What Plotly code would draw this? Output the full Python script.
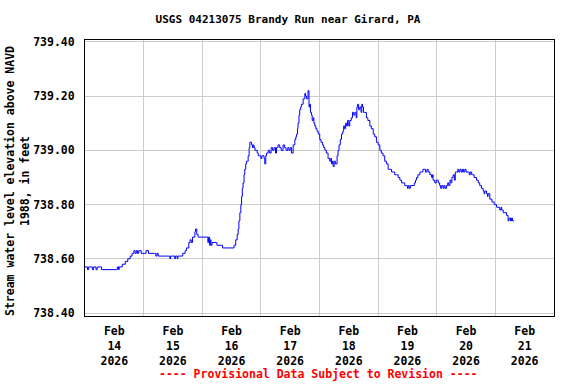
import pandas as pd
import plotly.graph_objects as go

# Hours since 2026-02-14 00:00 and stage (ft above NAVD 1988)
hours = [0, 1.0, 1.5, 2.5, 3.0, 3.5, 4.5, 5.0, 6.5, 6.75, 13.0, 13.25, 13.75, 14.0, 15.25, 16.5,
         17.5, 18.5, 19.25, 20.0, 20.5, 21.0, 21.5, 22.0, 22.5, 23.0, 24.5, 25.0, 26.0, 28.5, 29.0,
         29.5, 30.0, 34.5, 34.75, 35.0, 36.5, 36.75, 37.0, 37.75, 38.0, 39.5, 40.0, 41.0, 41.5,
         42.5, 43.0, 43.5, 44.0, 45.0, 45.25, 45.75, 46.3, 50.0, 50.3, 50.6, 51.0, 51.3, 51.6,
         52.0, 53.8, 54.0, 56.0, 56.3, 60.6, 61.0, 61.7, 62.3, 62.7, 63.0, 63.4, 63.8, 64.1, 64.4,
         64.7, 65.1, 65.4, 65.8, 66.1, 66.5, 66.8, 67.2, 67.5, 67.9, 68.2, 68.6, 68.9, 69.2, 69.6,
         69.9, 70.5, 70.9, 71.5, 72.0, 72.4, 72.9, 73.3, 73.6, 74.0, 74.3, 75.0, 75.6, 76.2, 76.8,
         77.4, 78.0, 78.4, 79.0, 79.7, 80.3, 81.1, 81.7, 82.3, 83.0, 83.5, 84.0, 84.5, 85.2, 85.9,
         86.3, 86.6, 87.0, 87.2, 87.6, 87.9, 88.3, 88.6, 89.3, 90.0, 90.3, 90.7, 91.0, 91.3, 91.7,
         92.0, 92.3, 92.7, 93.0, 93.4, 93.7, 94.1, 94.5, 95.0, 95.5, 96.1, 96.6, 97.2, 97.7, 98.2,
         98.8, 99.5, 100.2, 100.6, 100.9, 101.3, 101.6, 102.0, 102.5, 103.2, 103.6, 104.0, 104.5,
         105.0, 105.5, 105.9, 106.3, 106.7, 107.1, 107.5, 108.0, 108.4, 109.0, 109.5, 110.0, 110.5,
         111.0, 111.3, 111.6, 112.0, 112.5, 113.0, 113.3, 113.6, 114.0, 114.6, 115.2, 115.8, 116.6,
         117.2, 118.0, 118.6, 119.3, 120.0, 120.7, 121.3, 122.0, 122.7, 123.4, 124.1, 124.8, 125.5,
         126.8, 127.5, 128.2, 128.9, 129.6, 130.3, 130.9, 131.6, 132.0, 132.3, 132.7, 133.2, 134.3,
         134.8, 135.3, 135.7, 136.3, 137.1, 137.8, 138.3, 138.8, 139.4, 140.0, 140.5, 141.2, 141.9,
         142.3, 142.5, 143.2, 143.8, 144.6, 145.2, 145.6, 146.0, 146.6, 147.0, 147.4, 148.0, 148.5,
         148.9, 149.4, 149.8, 150.2, 150.7, 151.2, 151.6, 152.1, 152.6, 153.0, 153.5, 154.0, 154.5,
         155.0, 155.5, 156.0, 156.9, 157.3, 157.7, 158.3, 158.8, 159.3, 160.3, 161.0, 161.6, 162.3,
         163.0, 163.4, 163.7, 164.4, 164.8, 165.0, 165.7, 166.2, 166.6, 167.1, 167.5, 168.0, 168.5,
         169.0, 169.8, 170.3, 170.6, 171.2, 171.9, 172.6, 173.2, 173.6, 174.2, 174.6, 175.0, 175.6]

stage = [738.57, 738.56, 738.57, 738.57, 738.56, 738.57, 738.56, 738.57, 738.57, 738.56, 738.56,
         738.57, 738.56, 738.57, 738.58, 738.59, 738.60, 738.61, 738.62, 738.63, 738.62, 738.63,
         738.62, 738.63, 738.63, 738.62, 738.62, 738.63, 738.62, 738.62, 738.61, 738.62, 738.61,
         738.61, 738.60, 738.61, 738.61, 738.60, 738.61, 738.60, 738.61, 738.61, 738.62, 738.63,
         738.64, 738.66, 738.67, 738.66, 738.68, 738.70, 738.71, 738.69, 738.68, 738.68, 738.66,
         738.68, 738.65, 738.67, 738.65, 738.66, 738.66, 738.65, 738.65, 738.64, 738.64, 738.65,
         738.67, 738.69, 738.71, 738.74, 738.77, 738.80, 738.83, 738.86, 738.88, 738.91, 738.93,
         738.95, 738.96, 738.96, 738.98, 739.01, 739.03, 739.03, 739.02, 739.01, 739.02, 739.01,
         739.00, 739.00, 738.99, 738.98, 738.98, 738.97, 738.98, 738.98, 738.97, 738.95, 738.98,
         738.99, 739.00, 738.99, 739.01, 739.00, 739.01, 738.99, 739.01, 739.02, 739.01, 739.00,
         739.02, 739.01, 739.00, 739.01, 739.00, 739.01, 738.99, 739.02, 739.04, 739.05, 739.06,
         739.08, 739.10, 739.13, 739.15, 739.16, 739.17, 739.19, 739.21, 739.20, 739.19, 739.19,
         739.22, 739.16, 739.17, 739.14, 739.13, 739.11, 739.12, 739.10, 739.09, 739.08, 739.07,
         739.06, 739.04, 739.03, 739.02, 739.01, 739.00, 738.99, 738.97, 738.96, 738.97, 738.95,
         738.96, 738.94, 738.96, 738.95, 738.98, 739.00, 739.02, 739.04, 739.06, 739.07, 739.09,
         739.08, 739.10, 739.09, 739.11, 739.09, 739.11, 739.12, 739.14, 739.13, 739.14, 739.12,
         739.16, 739.17, 739.15, 739.16, 739.14, 739.17, 739.16, 739.14, 739.14, 739.12, 739.11,
         739.09, 739.08, 739.06, 739.05, 739.03, 739.02, 739.00, 738.99, 738.98, 738.96, 738.95,
         738.93, 738.93, 738.92, 738.91, 738.91, 738.90, 738.89, 738.88, 738.88, 738.87, 738.87,
         738.86, 738.87, 738.86, 738.87, 738.87, 738.88, 738.89, 738.90, 738.91, 738.92, 738.92,
         738.93, 738.93, 738.92, 738.93, 738.92, 738.91, 738.90, 738.91, 738.89, 738.88, 738.89,
         738.88, 738.87, 738.86, 738.87, 738.86, 738.87, 738.86, 738.87, 738.88, 738.87, 738.89,
         738.88, 738.90, 738.91, 738.89, 738.92, 738.92, 738.93, 738.92, 738.93, 738.92, 738.93,
         738.92, 738.93, 738.92, 738.92, 738.91, 738.92, 738.91, 738.91, 738.90, 738.89, 738.88,
         738.87, 738.86, 738.85, 738.84, 738.85, 738.84, 738.83, 738.84, 738.82, 738.82, 738.81,
         738.81, 738.80, 738.80, 738.79, 738.79, 738.78, 738.79, 738.78, 738.77, 738.77, 738.76,
         738.74, 738.75, 738.74, 738.75, 738.74, 738.74]

y_ticks = [738.40, 738.60, 738.80, 739.00, 739.20, 739.40]
title_text = "USGS 04213075 Brandy Run near Girard, PA"
y_title = "Stream water level elevation above NAVD<br>1988, in feet"
footer = "---- Provisional Data Subject to Revision ----"

start = pd.Timestamp("2026-02-14 00:00")
times = [start + pd.Timedelta(hours=h) for h in hours]

FONT = "DejaVu Sans Mono"

fig = go.Figure()
fig.add_trace(go.Scatter(x=times, y=stage, mode="lines", line=dict(color="#0000FF", width=1, shape="hv"),
                         showlegend=False, hoverinfo="skip"))

fig.update_layout(
    width=576, height=384,
    margin=dict(l=85, r=22, t=40, b=68),
    paper_bgcolor="white", plot_bgcolor="white",
    font=dict(family=FONT, size=11.5, color="black", weight="bold"),
    title=dict(text=title_text, x=0.5, xref="container", xanchor="center",
               y=1 - 19 / 384, yref="container", yanchor="middle",
               font=dict(family=FONT, size=11, color="black", weight="bold")),
    xaxis=dict(type="date", range=["2026-02-14", "2026-02-22"], tick0="2026-02-14", dtick=86400000,
               ticklabelmode="period", tickformat="%b<br>%d<br>%Y",
               showgrid=True, gridcolor="#cccccc", gridwidth=1,
               showline=True, linecolor="black", linewidth=1, mirror=True,
               ticks="", zeroline=False, ticklabelstandoff=4,
               tickfont=dict(family=FONT, size=11.5, color="black", weight="bold")),
    yaxis=dict(range=[738.389, 739.407], tickvals=y_ticks, tickformat=".2f",
               showgrid=True, gridcolor="#cccccc", gridwidth=1,
               showline=True, linecolor="black", linewidth=1, mirror=True,
               ticks="", zeroline=False, ticklabelstandoff=7,
               tickfont=dict(family=FONT, size=11.5, color="black", weight="bold")),
)

fig.add_annotation(text=y_title, xref="paper", yref="paper", x=(17 - 85) / 469, y=(316 - 181) / 276,
                   textangle=-90, showarrow=False, xanchor="center", yanchor="middle",
                   font=dict(family=FONT, size=11.5, color="black", weight="bold"))
fig.add_annotation(text=footer, xref="paper", yref="paper", x=(318 - 85) / 469, y=(316 - 374) / 276,
                   showarrow=False, xanchor="center", yanchor="middle",
                   font=dict(family=FONT, size=11.5, color="#FF0000", weight="bold"))

fig.write_html("out.html", config={"displayModeBar": False},
               post_script="document.body.style.margin='0';document.body.style.padding='0';")
